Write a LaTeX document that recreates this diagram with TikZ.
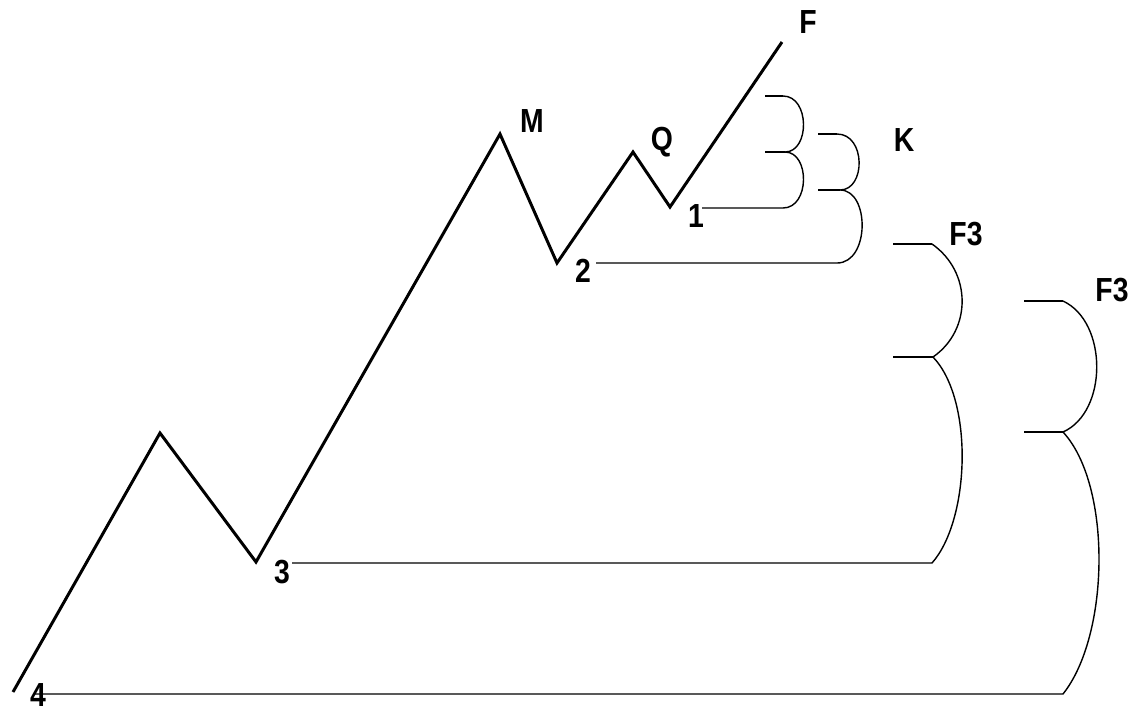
\documentclass[tikz,border=0pt]{standalone}
\usepackage{fontspec}
\setmainfont{Liberation Sans}
\newcommand{\wlbl}[1]{\scalebox{0.85}[1]{#1}}
\tikzset{
  wave/.style={line width=1.7pt, line join=miter},
  brace/.style={line width=0.8pt},
  tick/.style={line width=1.4pt},
  lbl/.style={inner sep=0pt, font=\bfseries\fontsize{19}{19}\selectfont}
}
\begin{document}
\begin{tikzpicture}[x=0.02cm, y=-0.02cm]
\useasboundingbox (0,0) rectangle (1134,711);
% wave vertices
\coordinate (s) at (13,692);
\coordinate (p1) at (160,433);
\coordinate (p3) at (256,562);
\coordinate (pM) at (500,134);
\coordinate (p2) at (557,263);
\coordinate (pQ) at (633,152);
\coordinate (p1b) at (670,207);
\coordinate (pF) at (782,42);
\draw[wave] (s) -- (p1) -- (p3) -- (pM) -- (p2) -- (pQ) -- (p1b) -- (pF);
% labels
\node[lbl] (lF) at (808,22) {\wlbl{F}};
\node[lbl] (lM) at (532,121) {\wlbl{M}};
\node[lbl] (lQ) at (662,142) {\wlbl{Q}};
\node[lbl] (lK) at (904,140) {\wlbl{K}};
\node[lbl] (l1) at (696,216) {\wlbl{1}};
\node[lbl] (l2) at (583,271) {\wlbl{2}};
\node[lbl] (l3) at (282,572) {\wlbl{3}};
\node[lbl] (l4) at (38,695) {\wlbl{4}};
\node[lbl] (lF3a) at (966,234) {\wlbl{F3}};
\node[lbl] (lF3b) at (1112,290) {\wlbl{F3}};
% bracket A (from 1)
\coordinate (a0) at (765,96);  \coordinate (a1) at (783,96);
\coordinate (a2) at (765,152); \coordinate (a3) at (785,152);
\coordinate (a4) at (783,208); \coordinate (a5) at (702,208);
\draw[tick] (a0) -- (a1);
\draw[tick] (a2) -- (a3);
\draw[brace] (a1) .. controls (810,96) and (810,152) .. (a3)
  .. controls (810,152) and (810,208) .. (a4) -- (a5);
% bracket B (from 2)
\coordinate (b0) at (818,134); \coordinate (b1) at (837,134);
\coordinate (b2) at (818,190); \coordinate (b3) at (840,190);
\coordinate (b4) at (837,263); \coordinate (b5) at (596,263);
\draw[tick] (b0) -- (b1);
\draw[tick] (b2) -- (b3);
\draw[brace] (b1) .. controls (866,134) and (866,190) .. (b3)
  .. controls (870,190) and (870,263) .. (b4) -- (b5);
% bracket C (F3, from 3)
\coordinate (c0) at (893,244); \coordinate (c1) at (932,244);
\coordinate (c2) at (893,357); \coordinate (c3) at (933,357);
\coordinate (c4) at (932,563); \coordinate (c5) at (292,563);
\draw[tick] (c0) -- (c1);
\draw[tick] (c2) -- (c3);
\draw[brace] (c1) .. controls (972,272) and (972,330) .. (c3)
  .. controls (974,400) and (970,520) .. (c4) -- (c5);
% bracket D (F3, from 4)
\coordinate (d0) at (1024,301); \coordinate (d1) at (1063,301);
\coordinate (d2) at (1024,432); \coordinate (d3) at (1063,432);
\coordinate (d4) at (1063,694); \coordinate (d5) at (34,694);
\draw[tick] (d0) -- (d1);
\draw[tick] (d2) -- (d3);
\draw[brace] (d1) .. controls (1108,322) and (1108,412) .. (d3)
  .. controls (1112,485) and (1110,635) .. (d4) -- (d5);
\end{tikzpicture}
\end{document}
